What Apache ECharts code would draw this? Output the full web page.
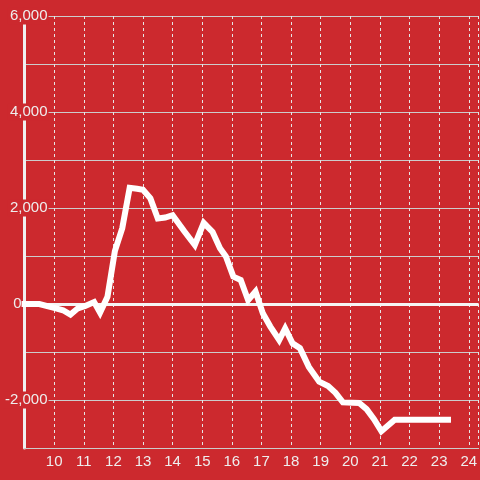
<!DOCTYPE html>
<html>
<head>
<meta charset="utf-8">
<script src="https://cdn.jsdelivr.net/npm/echarts@6/dist/echarts.min.js"></script>
<style>
html,body{margin:0;padding:0;background:#cc292e;}
#chart{width:480px;height:480px;}
</style>
</head>
<body>
<div id="chart"></div>
<script>
// Data (hour of day, value)
var hours = [8.9, 9.5, 10.0, 10.3, 10.55, 10.8, 11.05, 11.35, 11.55, 11.8, 12.05, 12.3, 12.55, 12.8, 13.0, 13.25, 13.5, 13.75, 14.0, 14.4, 14.75, 15.05, 15.35, 15.6, 15.8, 16.05, 16.3, 16.55, 16.8, 17.05, 17.3, 17.6, 17.8, 18.05, 18.3, 18.6, 18.95, 19.25, 19.5, 19.75, 20.3, 20.55, 20.8, 21.05, 21.5, 23.4];
var values = [0, 0, -80, -130, -220, -90, -40, 40, -180, 150, 1100, 1580, 2420, 2400, 2380, 2200, 1780, 1800, 1850, 1510, 1230, 1690, 1500, 1160, 990, 570, 500, 80, 260, -200, -470, -750, -510, -820, -920, -1310, -1620, -1710, -1850, -2050, -2060, -2190, -2400, -2650, -2410, -2410];
var xTickLabels = [10, 11, 12, 13, 14, 15, 16, 17, 18, 19, 20, 21, 22, 23, 24];
var yTickLabels = [-2000, 0, 2000, 4000, 6000];

var BG = '#cc292e';
var TXT = '#eeeeee';
var FONT = 'Liberation Sans';

var points = hours.map(function (h, i) { return [h, values[i]]; });

var chart = echarts.init(document.getElementById('chart'), null, {renderer: 'canvas'});
chart.setOption({
  backgroundColor: BG,
  animation: false,
  grid: {left: 20, right: 0, top: 16, bottom: 32, containLabel: false},
  xAxis: {
    type: 'value',
    min: 9, max: 24.3333, interval: 1,
    axisLine: {show: true, onZero: false, lineStyle: {color: '#cccccc', width: 1}},
    axisTick: {show: false},
    axisLabel: {
      color: TXT, fontFamily: FONT, fontSize: 15, margin: 6,
      showMinLabel: false, showMaxLabel: false,
      formatter: function (v) { return xTickLabels.indexOf(v) >= 0 ? String(v) : ''; }
    },
    splitLine: {show: true, lineStyle: {color: '#e6e6e6', width: 1, type: [3, 3]}}
  },
  yAxis: {
    type: 'value',
    min: -3000, max: 6000, interval: 1000,
    axisLine: {show: true, lineStyle: {color: '#f0f0f0', width: 3}},
    axisTick: {show: false},
    axisLabel: {
      inside: true, align: 'right', margin: 24,
      color: TXT, fontFamily: FONT, fontSize: 15,
      formatter: function (v) {
        if (yTickLabels.indexOf(v) < 0) return '';
        if (v === 0) return '{z|0}';
        return '{a|' + v.toLocaleString('en-US') + '}';
      },
      rich: {
        a: {color: TXT, fontFamily: FONT, fontSize: 15, backgroundColor: BG, padding: [1, 1, 1, 2]},
        z: {color: TXT, fontFamily: FONT, fontSize: 15, padding: [0, 27, 0, 0]}
      }
    },
    splitLine: {show: true, lineStyle: {color: '#cccccc', width: 1}}
  },
  series: [{
    type: 'line',
    data: points,
    showSymbol: false,
    symbol: 'none',
    clip: false,
    lineStyle: {color: '#ffffff', width: 6, join: 'miter', cap: 'butt'},
    z: 3,
    markLine: {
      silent: true,
      symbol: 'none',
      label: {show: false},
      lineStyle: {color: '#f5f5f5', width: 3, type: 'solid'},
      data: [{yAxis: 0}],
      z: 2
    }
  }]
});
</script>
</body>
</html>
